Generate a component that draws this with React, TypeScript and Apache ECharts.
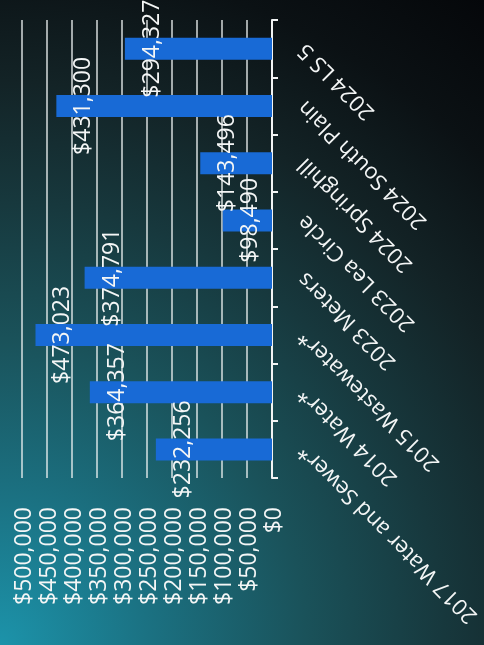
import React, { useEffect, useRef } from "react";
import * as echarts from "echarts";

const categories = [
  "2017 Water and Sewer*",
  "2014 Water*",
  "2015 Wastewater*",
  "2023 Meters",
  "2023 Lea Circle",
  "2024 Springhill",
  "2024 South Plain",
  "2024 LS 5",
];
const costs = [232256, 364357, 473023, 374791, 98490, 143496, 431300, 294327];
const axisMin = 0;
const axisMax = 500000;
const axisStep = 50000;

const money = (v: number) => "$" + Math.round(v).toLocaleString("en-US");

export default function App() {
  const ref = useRef<HTMLDivElement>(null);
  useEffect(() => {
    if (!ref.current) return;
    const chart = echarts.init(ref.current, null, { renderer: "svg" });
    const font = "'Open Sans', Lato, sans-serif";
    chart.setOption({
      animation: false,
      backgroundColor: "transparent",
      textStyle: { fontFamily: font },
      grid: { left: 22, right: 212, top: 20, bottom: 167, containLabel: false },
      xAxis: {
        type: "value",
        inverse: true,
        min: axisMin,
        max: axisMax,
        interval: axisStep,
        position: "bottom",
        axisLine: { show: false },
        axisTick: { show: false },
        splitLine: { show: true, lineStyle: { color: "rgba(235,240,240,0.9)", width: 1.5 } },
        axisLabel: {
          rotate: 90,
          margin: 29,
          color: "#f4f6f6",
          fontSize: 23,
          fontFamily: font,
          formatter: (v: number) => money(v),
        },
      },
      yAxis: {
        type: "category",
        position: "right",
        data: categories,
        axisLine: { show: true, lineStyle: { color: "#f2f4f4", width: 2 } },
        axisTick: { show: true, length: 6, lineStyle: { color: "#f2f4f4", width: 2 } },
        splitLine: { show: false },
        axisLabel: {
          rotate: 135,
          margin: 28,
          color: "#f4f6f6",
          fontSize: 22,
          fontFamily: font,
          align: "right",
          verticalAlign: "middle",
        },
      },
      series: [
        {
          type: "bar",
          data: costs,
          barWidth: 22,
          itemStyle: { color: "#186ad6" },
          label: {
            show: true,
            position: "insideLeft",
            distance: 25,
            rotate: 90,
            align: "center",
            verticalAlign: "middle",
            color: "#f4f6f6",
            fontSize: 23,
            fontFamily: font,
            formatter: (p: any) => money(p.value),
          },
        },
      ],
    });
    return () => chart.dispose();
  }, []);
  return (
    <div
      style={{
        position: "fixed",
        left: 0,
        top: 0,
        width: 484,
        height: 645,
        background:
          "radial-gradient(circle farthest-corner at 0% 100%, #1c93aa 0%, #1b7283 18%, #1a525a 38%, #17383d 55%, #132326 70%, #0b1114 85%, #05070a 100%)",
      }}
    >
      <div ref={ref} style={{ width: 484, height: 645 }} />
    </div>
  );
}
